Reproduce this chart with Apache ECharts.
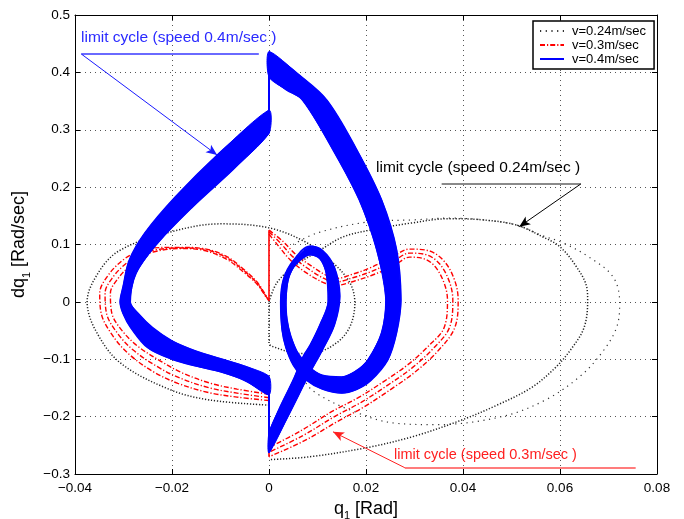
<!DOCTYPE html>
<html><head><meta charset="utf-8">
<script src="https://cdn.jsdelivr.net/npm/echarts@6/dist/echarts.min.js"></script>
<style>html,body{margin:0;padding:0;background:#fff;overflow:hidden}#c{width:684px;height:519px}</style>
</head><body><div id="c"></div>
<script>
// ---------- data (q1 [Rad], dq1 [Rad/sec]) ----------
const X_TICKS = [-0.04, -0.02, 0, 0.02, 0.04, 0.06, 0.08];
const Y_TICKS = [-0.3, -0.2, -0.1, 0, 0.1, 0.2, 0.3, 0.4, 0.5];
const LEGEND_NAMES = ['v=0.24m/sec', 'v=0.3m/sec', 'v=0.4m/sec'];

// v = 0.24 m/sec (black dotted)
const K_SPARSE = [[0.005,0.1],[0.0099,0.12],[0.0202,0.139],[0.03,0.143],[0.0373,0.146],[0.044,0.143],[0.051,0.134],[0.0565,0.115],[0.0606,0.103],[0.066,0.078],[0.0709,0.044],[0.0723,0.0],[0.0717,-0.044],[0.0686,-0.089],[0.0641,-0.13],[0.057,-0.171],[0.048,-0.2],[0.0345,-0.214],[0.0256,-0.211],[0.0166,-0.188],[0.0099,-0.16],[0.0076,-0.141],[0.0064,-0.11]];
const K_RIGHT = [[0,0],[0.0016,0.033],[0.005,0.061],[0.0105,0.09],[0.0152,0.113],[0.0208,0.125],[0.029,0.137],[0.0373,0.145],[0.044,0.143],[0.051,0.134],[0.0565,0.113],[0.06,0.096],[0.0634,0.061],[0.0655,0.026],[0.0657,0.003],[0.065,-0.044],[0.0625,-0.08],[0.059,-0.115],[0.054,-0.15],[0.047,-0.18],[0.04,-0.205],[0.03,-0.234],[0.0202,-0.254],[0.0084,-0.27],[0,-0.275]];
const K_LEFT = [[0,-0.18],[-0.0122,-0.171],[-0.0204,-0.153],[-0.0307,-0.106],[-0.0358,-0.049],[-0.0375,0],[-0.0348,0.056],[-0.0307,0.09],[-0.022,0.118],[-0.0101,0.136],[0,0.129],[0.0078,0.103],[0.0132,0.068],[0.0167,0.033],[0.0177,-0.002],[0.0167,-0.043],[0.014,-0.071],[0.0099,-0.088],[0.0064,-0.09],[0.0008,-0.078],[0,-0.072],[0,0]];

// v = 0.3 m/sec (red dash-dot), two sweeps of the cycle plus middle
const RED_A1 = [[0,0.125],[0.0028,0.106],[0.0056,0.082],[0.009,0.061],[0.0123,0.044],[0.014,0.041],[0.0171,0.048],[0.0205,0.058],[0.0252,0.077],[0.029,0.092],[0.033,0.089],[0.0362,0.07],[0.0383,0.037],[0.039,0.003],[0.0383,-0.045],[0.035,-0.084],[0.0303,-0.121],[0.0252,-0.152],[0.0196,-0.183],[0.014,-0.209],[0.0073,-0.242],[0,-0.27]];
const RED_C1 = [[0,0.122],[0.0023,0.103],[0.005,0.078],[0.0084,0.056],[0.012,0.038],[0.014,0.035],[0.0173,0.042],[0.0208,0.052],[0.0255,0.07],[0.029,0.085],[0.0325,0.082],[0.0352,0.066],[0.0372,0.035],[0.0379,0.003],[0.0372,-0.045],[0.034,-0.08],[0.0295,-0.115],[0.0245,-0.145],[0.019,-0.175],[0.0135,-0.2],[0.007,-0.233],[0,-0.262]];
const RED_B1 = [[0,0.118],[0.0018,0.099],[0.0044,0.073],[0.0078,0.05],[0.0117,0.032],[0.014,0.029],[0.0175,0.036],[0.0211,0.046],[0.0258,0.063],[0.029,0.078],[0.032,0.075],[0.0342,0.062],[0.0361,0.033],[0.0368,0.003],[0.0361,-0.045],[0.033,-0.076],[0.0287,-0.109],[0.0238,-0.138],[0.0184,-0.167],[0.013,-0.191],[0.0067,-0.224],[0,-0.254]];
const RED_A2 = [[0,-0.172],[-0.0066,-0.166],[-0.0125,-0.158],[-0.0188,-0.142],[-0.0238,-0.122],[-0.0289,-0.091],[-0.0323,-0.058],[-0.0346,-0.02],[-0.0349,0.015],[-0.0331,0.047],[-0.0301,0.073],[-0.0271,0.087],[-0.0239,0.094],[-0.0183,0.095],[-0.0136,0.093],[-0.0087,0.079],[-0.0054,0.058],[-0.0025,0.035],[-0.0004,0.008],[0,0.002]];
const RED_C2 = [[0,-0.167],[-0.0066,-0.159],[-0.0122,-0.15],[-0.0183,-0.133],[-0.023,-0.113],[-0.028,-0.084],[-0.0313,-0.054],[-0.0335,-0.02],[-0.0338,0.015],[-0.0321,0.044],[-0.0293,0.068],[-0.0266,0.082],[-0.0239,0.09],[-0.0183,0.094],[-0.0136,0.092],[-0.0087,0.077],[-0.0054,0.056],[-0.0025,0.033],[-0.0004,0.007],[0,0.002]];
const RED_B2 = [[0,-0.161],[-0.0066,-0.152],[-0.012,-0.142],[-0.0178,-0.124],[-0.0222,-0.104],[-0.0271,-0.077],[-0.0303,-0.05],[-0.0324,-0.02],[-0.0327,0.015],[-0.0311,0.041],[-0.0285,0.064],[-0.0262,0.078],[-0.0239,0.087],[-0.0183,0.093],[-0.0136,0.09],[-0.0087,0.074],[-0.0054,0.053],[-0.0025,0.031],[-0.0004,0.006],[0,0.002]];
const RED_JUMPS = [[[0,0.002],[0,0.125]],[[0,-0.27],[0,-0.161]]];

// v = 0.4 m/sec (blue solid): the two edges of the band of cycles
const BLUE_L1 = [[0,0.436],[0.006,0.397],[0.0119,0.352],[0.0181,0.265],[0.0232,0.178],[0.0263,0.091],[0.0272,0.003],[0.0263,-0.054],[0.0245,-0.101],[0.021,-0.137],[0.018,-0.153],[0.015,-0.159],[0.011,-0.152],[0.0075,-0.135],[0.005,-0.11],[0.0035,-0.08],[0.0027,-0.049],[0.0024,0],[0.003,0.04],[0.005,0.072],[0.0084,0.097],[0.011,0.09],[0.0135,0.06],[0.0146,0.01],[0.0135,-0.04],[0.011,-0.084],[0.0084,-0.124],[0.0043,-0.193],[0,-0.263]];
const BLUE_R1 = [[0,0.392],[0.0035,0.37],[0.0069,0.352],[0.0132,0.265],[0.0186,0.178],[0.0222,0.091],[0.0241,0.003],[0.0232,-0.054],[0.0204,-0.101],[0.018,-0.12],[0.015,-0.131],[0.011,-0.128],[0.0085,-0.115],[0.006,-0.09],[0.0045,-0.06],[0.0037,-0.03],[0.0035,0],[0.004,0.04],[0.0055,0.065],[0.0084,0.082],[0.0105,0.075],[0.0118,0.05],[0.0122,0],[0.0105,-0.04],[0.0085,-0.075],[0.007,-0.096],[0.005,-0.136],[0.0023,-0.183],[0,-0.228]];
const BLUE_L2 = [[0,-0.162],[-0.005,-0.137],[-0.01,-0.122],[-0.015,-0.112],[-0.02,-0.1],[-0.025,-0.08],[-0.0285,-0.045],[-0.0301,-0.02],[-0.0307,0],[-0.0301,0.026],[-0.0288,0.073],[-0.0256,0.12],[-0.0193,0.183],[-0.0103,0.259],[0,0.334]];
const BLUE_R2 = [[0,-0.13],[-0.005,-0.112],[-0.01,-0.099],[-0.015,-0.086],[-0.02,-0.068],[-0.024,-0.045],[-0.027,-0.02],[-0.0286,0],[-0.0274,0.05],[-0.0229,0.103],[-0.0157,0.166],[-0.0075,0.23],[0,0.294]];
const BLUE_JUMPS = [[[0,0.294],[0,0.436]],[[0,-0.263],[0,-0.13]]];

// ---------- chart ----------
const FONT = '"Liberation Sans", Arial, Helvetica, sans-serif';
const fmt = v => { let s = String(Math.round(v * 1000) / 1000); if (s === '-0') s = '0'; return s.replace('-', '\u2212'); };

function lineSeries(name, data, color, width, dash, z) {
  return { type: 'line', name: name, data: data, showSymbol: false, symbol: 'none', smooth: 0.35,
    lineStyle: { color: color, width: width, type: dash, cap: 'butt' }, itemStyle: { color: color },
    z: z, silent: true, animation: false };
}

const BLACK_DASH = [1.2, 1.8], SPARSE_DASH = [1.2, 4.5], RED_DASH = [5, 2, 1.2, 2];
const series = [];
series.push(lineSeries(LEGEND_NAMES[0], K_SPARSE, '#333', 1.2, SPARSE_DASH, 2));
series.push(lineSeries(LEGEND_NAMES[0], K_RIGHT, '#222', 1.5, BLACK_DASH, 2));
series.push(lineSeries(LEGEND_NAMES[0], K_LEFT, '#222', 1.5, BLACK_DASH, 2));
[RED_A1, RED_C1, RED_B1, RED_A2, RED_C2, RED_B2].forEach(d => series.push(lineSeries(LEGEND_NAMES[1], d, '#ff0000', 1.4, RED_DASH, 3)));
RED_JUMPS.forEach(d => series.push(lineSeries(LEGEND_NAMES[1], d, '#ff0000', 1.6, 'solid', 3)));
[BLUE_L1, BLUE_R1, BLUE_L2, BLUE_R2].forEach(d => series.push(lineSeries(LEGEND_NAMES[2], d, '#0000ff', 1.5, 'solid', 4)));
BLUE_JUMPS.forEach(d => series.push(lineSeries(LEGEND_NAMES[2], d, '#0000ff', 2, 'solid', 4)));
const BLUE_BANDS = [[BLUE_L1, BLUE_R1], [BLUE_L2, BLUE_R2]];
series.push({
  type: 'custom', coordinateSystem: 'cartesian2d', data: [[0, 0], [0, 0]], encode: { x: 0, y: 1 },
  z: 4, silent: true, animation: false,
  renderItem: function (params, api) {
    const b = BLUE_BANDS[params.dataIndex];
    const pts = b[0].map(p => api.coord(p)).concat(b[1].slice().reverse().map(p => api.coord(p)));
    return { type: 'polygon', shape: { points: pts, smooth: 0.25 }, style: { fill: '#0000ff', stroke: '#0000ff', lineWidth: 1 } };
  }
});

// annotations (underlines + arrows), in data coordinates
function seg(a, b, color, w, arrow) {
  return [{ coord: a, symbol: 'none', lineStyle: { color: color, width: w, type: 'solid' } },
          { coord: b, symbol: arrow ? 'arrow' : 'none', symbolSize: arrow ? [7, 11] : 0 }];
}
series.push({
  type: 'line', data: [], silent: true, animation: false, z: 6,
  markLine: { silent: true, animation: false, label: { show: false }, symbol: 'none',
    data: [
      seg([-0.0387, 0.432], [-0.0021, 0.432], '#6a6aff', 2, false),
      seg([-0.0387, 0.432], [-0.0107, 0.256], '#1a1aff', 1, true),
      seg([0.0356, 0.2056], [0.0643, 0.2056], '#8a8a8a', 2, false),
      seg([0.0643, 0.2056], [0.0516, 0.131], '#000', 1, true),
      seg([0.028, -0.289], [0.0756, -0.289], '#ff5050', 1.5, false),
      seg([0.028, -0.289], [0.0132, -0.2265], '#ff2020', 1, true)
    ] }
});

const axisCommon = {
  type: 'value', axisLine: { show: true, onZero: false, lineStyle: { color: '#000', width: 1 } },
  axisTick: { show: true, inside: true, length: 5, lineStyle: { color: '#000' } },
};

const option = {
  backgroundColor: '#fff',
  animation: false,
  grid: { left: 75, right: 27, top: 15, bottom: 45, containLabel: false, outerBoundsMode: 'none' },
  legend: {
    data: LEGEND_NAMES, orient: 'vertical', left: 533, top: 21, padding: [3, 8, 3, 6], itemGap: 0,
    itemWidth: 24, itemHeight: 12, borderColor: '#000', borderWidth: 1.5, backgroundColor: '#fff',
    itemStyle: { color: 'rgba(0,0,0,0)', borderWidth: 0, opacity: 0 },
    textStyle: { fontSize: 13, lineHeight: 14, fontFamily: FONT, color: '#000', padding: [0, 0, 0, 3] },
    selectedMode: false, z: 10
  },
  xAxis: [
    Object.assign({}, axisCommon, { min: -0.04, max: 0.08, interval: 0.02, position: 'bottom',
      name: '{a|q}{s|1}{a| [Rad]}', nameLocation: 'middle', nameGap: 20,
      nameTextStyle: { rich: { a: { fontSize: 18, fontFamily: FONT, color: '#000', verticalAlign: 'bottom', padding: [0, 0, 4, 0] },
                               s: { fontSize: 11, fontFamily: FONT, color: '#000', verticalAlign: 'bottom' } } },
      axisLabel: { formatter: fmt, fontSize: 13.5, fontFamily: FONT, color: '#000', margin: 7 },
      splitLine: { show: true, lineStyle: { color: '#555', width: 1, type: [1, 4] } } }),
    Object.assign({}, axisCommon, { min: -0.04, max: 0.08, interval: 0.02, position: 'top',
      axisLabel: { show: false }, splitLine: { show: false } })
  ],
  yAxis: [
    Object.assign({}, axisCommon, { min: -0.3, max: 0.5, interval: 0.1, position: 'left',
      name: '{a|dq}{s|1}{a| [Rad/sec]}', nameLocation: 'middle', nameGap: 36, nameRotate: 90,
      nameTextStyle: { rich: { a: { fontSize: 18, fontFamily: FONT, color: '#000', verticalAlign: 'bottom', padding: [0, 0, 4, 0] },
                               s: { fontSize: 11, fontFamily: FONT, color: '#000', verticalAlign: 'bottom' } } },
      axisLabel: { formatter: fmt, fontSize: 13.5, fontFamily: FONT, color: '#000', margin: 5 },
      splitLine: { show: true, lineStyle: { color: '#555', width: 1, type: [1, 4] } } }),
    Object.assign({}, axisCommon, { min: -0.3, max: 0.5, interval: 0.1, position: 'right',
      axisLabel: { show: false }, splitLine: { show: false } })
  ],
  series: series,
  graphic: [
    { type: 'text', x: 81, y: 38, silent: true, z: 20,
      style: { text: 'limit cycle (speed 0.4m/sec )', fill: '#2a2aff', font: '15.5px ' + FONT, verticalAlign: 'middle', textVerticalAlign: 'middle' } },
    { type: 'text', x: 376, y: 168, silent: true, z: 20,
      style: { text: 'limit cycle (speed 0.24m/sec )', fill: '#000', font: '15.5px ' + FONT, verticalAlign: 'middle', textVerticalAlign: 'middle' } },
    { type: 'text', x: 394, y: 455, silent: true, z: 20,
      style: { text: 'limit cycle (speed 0.3m/sec )', fill: '#ff2020', font: '14.5px ' + FONT, verticalAlign: 'middle', textVerticalAlign: 'middle' } }
  ]
};

const chart = echarts.init(document.getElementById('c'), null, { renderer: 'canvas', width: 684, height: 519 });
chart.setOption(option);
</script></body></html>
